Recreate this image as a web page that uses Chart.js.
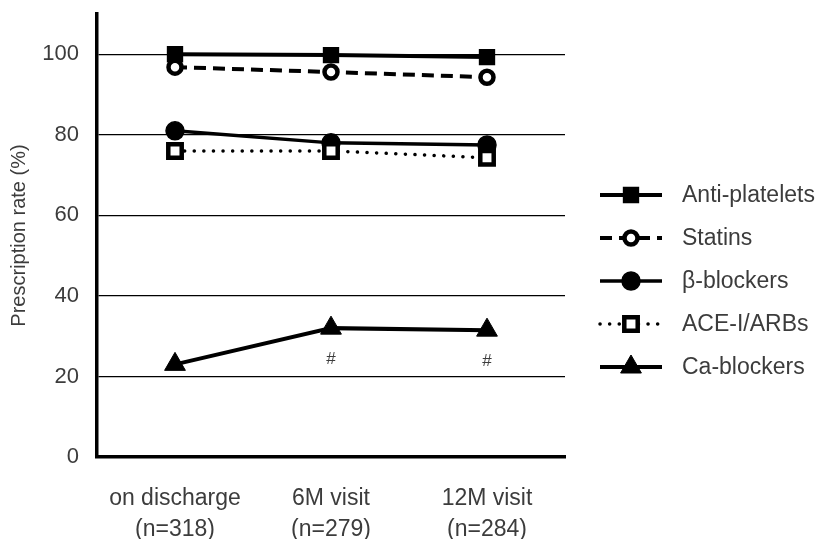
<!DOCTYPE html>
<html>
<head>
<meta charset="utf-8">
<script src="https://cdn.jsdelivr.net/npm/chart.js@4.4.1/dist/chart.umd.min.js"></script>
<style>
  html, body { margin: 0; padding: 0; background: #fff; }
  #wrap { width: 820px; height: 539px; position: relative; }
</style>
</head>
<body>
<div id="wrap"><canvas id="chart"></canvas></div>
<script>
const VISITS = [["on discharge", "(n=318)"], ["6M visit", "(n=279)"], ["12M visit", "(n=284)"]];
const ANTI_PLATELETS = [100, 99.8, 99.3];
const STATINS = [96.8, 95.6, 94.3];
const BETA_BLOCKERS = [81, 78, 77.5];
const ACE_ARBS = [76, 76, 74.3];
const CA_BLOCKERS = [23, 32, 31.5];
const Y_TICKS = [0, 20, 40, 60, 80, 100];
const CA_MARKS = ["", "#", "#"]; // significance vs. discharge

const FONT = '"Liberation Sans", Arial, sans-serif';
const TEXT = "#3c3c3c";
Chart.defaults.font.family = FONT;

function series(label, data, o) {
  return {
    label, data,
    borderColor: "#000", borderWidth: o.lw, borderDash: o.dash || [], borderCapStyle: o.cap || "butt",
    pointStyle: o.style, pointRadius: o.r, pointHoverRadius: o.r,
    pointBackgroundColor: o.fill, pointBorderColor: "#000", pointBorderWidth: o.pbw,
    tension: 0, fill: false, clip: false, order: o.order,
  };
}

const datasets = [
  series("Anti-platelets", ANTI_PLATELETS, { lw: 4, style: "rect", r: 10.5, fill: "#000", pbw: 1.5, order: 4 }),
  series("Statins", STATINS, { lw: 4, dash: [12, 7], style: "circle", r: 6.5, fill: "#fff", pbw: 4.5, order: 2 }),
  series("β-blockers", BETA_BLOCKERS, { lw: 3.5, style: "circle", r: 9, fill: "#000", pbw: 1.5, order: 3 }),
  series("ACE-I/ARBs", ACE_ARBS, { lw: 3.5, dash: [0.1, 9.5], cap: "round", style: "rect", r: 9.5, fill: "#fff", pbw: 4.5, order: 1 }),
  series("Ca-blockers", CA_BLOCKERS, { lw: 4, style: "triangle", r: 12, fill: "#000", pbw: 1, order: 0 }),
];

// legend on the right: line sample + marker + label
const sideLegend = {
  id: "sideLegend",
  afterDraw(chart) {
    const ctx = chart.ctx;
    chart.data.datasets.forEach((ds, i) => {
      const y = 195 + i * 43;
      ctx.save();
      ctx.strokeStyle = "#000";
      ctx.lineWidth = ds.borderWidth;
      ctx.lineCap = ds.borderCapStyle;
      ctx.setLineDash(ds.borderDash);
      ctx.beginPath();
      ctx.moveTo(600, y);
      ctx.lineTo(662, y);
      ctx.stroke();
      ctx.setLineDash([]);
      ctx.lineCap = "butt";
      ctx.fillStyle = ds.pointBackgroundColor;
      ctx.lineWidth = ds.pointBorderWidth;
      Chart.helpers.drawPoint(ctx, { pointStyle: ds.pointStyle, radius: ds.pointRadius, borderWidth: ds.pointBorderWidth, rotation: 0 }, 631, y);
      ctx.fillStyle = TEXT;
      ctx.font = `23px ${FONT}`;
      ctx.textBaseline = "middle";
      ctx.textAlign = "left";
      ctx.fillText(ds.label, 682, y + 1);
      ctx.restore();
    });
  },
};

// "#" marks under the Ca-blocker points
const caMarks = {
  id: "caMarks",
  afterDatasetsDraw(chart) {
    const { ctx, scales: { x, y } } = chart;
    ctx.save();
    ctx.fillStyle = TEXT;
    ctx.font = `17px ${FONT}`;
    ctx.textAlign = "center";
    ctx.textBaseline = "middle";
    CA_MARKS.forEach((m, i) => {
      if (m) ctx.fillText(m, x.getPixelForValue(i), y.getPixelForValue(CA_BLOCKERS[i]) + 31);
    });
    ctx.restore();
  },
};

new Chart(document.getElementById("chart"), {
  type: "line",
  data: { labels: VISITS, datasets },
  plugins: [sideLegend, caMarks],
  options: {
    responsive: true, maintainAspectRatio: false, animation: false,
    layout: { padding: { top: 12, right: 255, left: 0, bottom: 0 } },
    plugins: { legend: { display: false }, tooltip: { enabled: false } },
    scales: {
      x: {
        offset: true,
        grid: { display: false, drawTicks: false },
        border: { display: true, color: "#000", width: 3.5 },
        ticks: { color: TEXT, font: { size: 23, lineHeight: 1.35 }, padding: 26, maxRotation: 0, autoSkip: false },
        afterFit(s) { s.height = 82; s.paddingLeft = 0; s.paddingRight = 0; },
      },
      y: {
        min: 0, max: 110,
        afterBuildTicks(s) { s.ticks = Y_TICKS.map((v) => ({ value: v })); },
        grid: { color: "#000", lineWidth: 1.3, drawTicks: false },
        border: { color: "#000", width: 3.5 },
        ticks: { color: TEXT, font: { size: 22 }, padding: 18 },
        title: { display: true, text: "Prescription rate (%)", color: TEXT, font: { size: 20 }, padding: { top: 7, bottom: 0 } },
        afterFit(s) { s.width = 97; s.paddingTop = 0; s.paddingBottom = 0; },
      },
    },
  },
});
</script>
</body>
</html>
